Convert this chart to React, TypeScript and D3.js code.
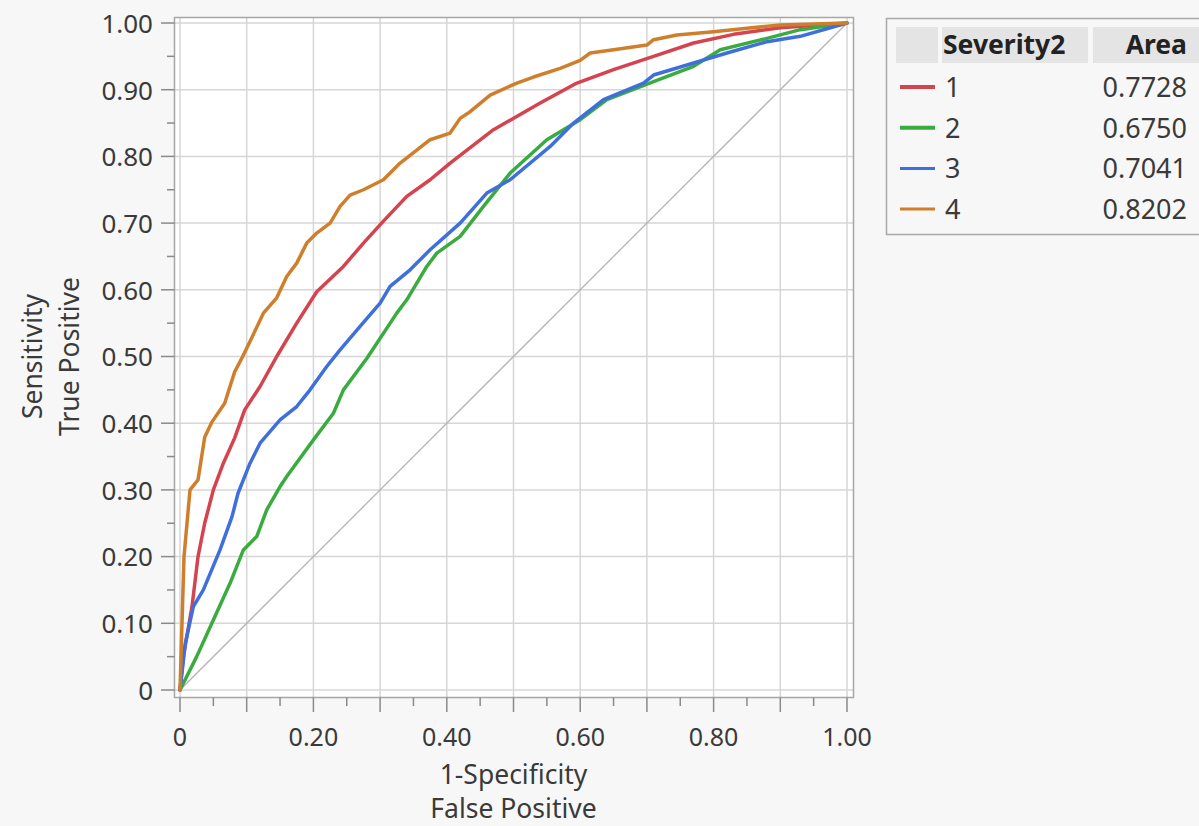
import React from 'react'
import * as d3 from 'd3'

const width = 1199
const height = 826

// ROC curves per Severity2 level, [1-specificity, sensitivity]
const sev1: [number, number][] = [
  [0, 0], [0.005, 0.05], [0.018, 0.125], [0.027, 0.2], [0.037, 0.25], [0.05, 0.3], [0.065, 0.34],
  [0.082, 0.378], [0.097, 0.42], [0.12, 0.455], [0.145, 0.5], [0.175, 0.55], [0.205, 0.597],
  [0.245, 0.635], [0.275, 0.67], [0.305, 0.703], [0.34, 0.74], [0.375, 0.765], [0.405, 0.79],
  [0.47, 0.84], [0.54, 0.88], [0.595, 0.91], [0.65, 0.93], [0.71, 0.95], [0.77, 0.97],
  [0.83, 0.983], [0.9, 0.993], [1, 1]
]
const sev2: [number, number][] = [
  [0, 0], [0.025, 0.05], [0.05, 0.105], [0.075, 0.16], [0.095, 0.21], [0.115, 0.23], [0.13, 0.27],
  [0.15, 0.305], [0.16, 0.32], [0.2, 0.375], [0.23, 0.415], [0.245, 0.45], [0.28, 0.497],
  [0.325, 0.565], [0.34, 0.585], [0.37, 0.635], [0.385, 0.655], [0.42, 0.68], [0.455, 0.725],
  [0.495, 0.775], [0.55, 0.825], [0.6, 0.855], [0.64, 0.885], [0.71, 0.912], [0.77, 0.935],
  [0.81, 0.96], [0.88, 0.977], [0.93, 0.99], [1, 1]
]
const sev3: [number, number][] = [
  [0, 0], [0.008, 0.07], [0.02, 0.125], [0.035, 0.15], [0.06, 0.21], [0.078, 0.26], [0.087, 0.295],
  [0.105, 0.34], [0.12, 0.37], [0.15, 0.405], [0.175, 0.425], [0.195, 0.45], [0.22, 0.485],
  [0.24, 0.51], [0.27, 0.545], [0.3, 0.58], [0.315, 0.605], [0.345, 0.63], [0.375, 0.66],
  [0.42, 0.7], [0.46, 0.745], [0.495, 0.765], [0.555, 0.815], [0.59, 0.85], [0.635, 0.885],
  [0.695, 0.91], [0.71, 0.922], [0.77, 0.94], [0.82, 0.955], [0.88, 0.972], [0.93, 0.98], [1, 1]
]
const sev4: [number, number][] = [
  [0, 0], [0.003, 0.1], [0.006, 0.2], [0.015, 0.3], [0.027, 0.315], [0.037, 0.379], [0.048, 0.402],
  [0.067, 0.43], [0.082, 0.477], [0.094, 0.5], [0.108, 0.529], [0.125, 0.565], [0.145, 0.588],
  [0.16, 0.62], [0.175, 0.64], [0.19, 0.67], [0.205, 0.685], [0.225, 0.7], [0.24, 0.725],
  [0.255, 0.742], [0.275, 0.75], [0.305, 0.765], [0.33, 0.79], [0.375, 0.825], [0.405, 0.835],
  [0.42, 0.857], [0.435, 0.867], [0.465, 0.892], [0.505, 0.91], [0.53, 0.919], [0.57, 0.932],
  [0.6, 0.944], [0.615, 0.955], [0.65, 0.96], [0.7, 0.967], [0.71, 0.975], [0.745, 0.982],
  [0.8, 0.987], [0.85, 0.992], [0.9, 0.997], [1, 1]
]

const levels = ['1', '2', '3', '4']
const areas = ['0.7728', '0.6750', '0.7041', '0.8202']
const colors = ['#d5434f', '#3aab3e', '#3f6fdc', '#cf7f2b']
const curves = [sev1, sev2, sev3, sev4]

const majorTicks = [0, 0.1, 0.2, 0.3, 0.4, 0.5, 0.6, 0.7, 0.8, 0.9, 1]
const minorTicks = d3.range(0.05, 1, 0.1)
const yTickLabels = ['0', '0.10', '0.20', '0.30', '0.40', '0.50', '0.60', '0.70', '0.80', '0.90', '1.00']
const xTickValues = [0, 0.2, 0.4, 0.6, 0.8, 1]
const xTickLabels = ['0', '0.20', '0.40', '0.60', '0.80', '1.00']

const font = '"Noto Sans", "Open Sans", sans-serif'
const textColor = '#3a3a3a'

const x = d3.scaleLinear().domain([0, 1]).range([180, 847])
const y = d3.scaleLinear().domain([0, 1]).range([690, 23])

const line = d3.line<[number, number]>().x(d => x(d[0])).y(d => y(d[1]))

const frame = { left: 174.5, top: 17.5, right: 853.5, bottom: 697.5 }

export default function App() {
  return (
    <svg width={width} height={height} style={{ position: 'absolute', left: 0, top: 0 }} fontFamily={font}>
      <rect width={width} height={height} fill="#f7f7f7" />
      <rect x={frame.left} y={frame.top} width={frame.right - frame.left} height={frame.bottom - frame.top} fill="#fff" />

      {majorTicks.map((t, i) => (
        <g key={'g' + i} stroke="#d6d6d6" strokeWidth={1.5}>
          <line x1={x(t)} x2={x(t)} y1={frame.top} y2={frame.bottom} />
          <line x1={frame.left} x2={frame.right} y1={y(t)} y2={y(t)} />
        </g>
      ))}

      <line x1={x(0)} y1={y(0)} x2={x(1)} y2={y(1)} stroke="#b4b4b4" strokeWidth={1.3} />

      {curves.map((c, i) => (
        <path key={'c' + i} d={line(c) || ''} fill="none" stroke={colors[i]} strokeWidth={3.5}
          strokeLinejoin="round" strokeLinecap="round" />
      ))}

      <rect x={frame.left} y={frame.top} width={frame.right - frame.left} height={frame.bottom - frame.top}
        fill="none" stroke="#a6a6a6" strokeWidth={1.5} />

      {/* y axis */}
      {majorTicks.map((t, i) => (
        <g key={'yt' + i}>
          <line x1={161} x2={frame.left} y1={y(t)} y2={y(t)} stroke="#8a8a8a" strokeWidth={1.5} />
          <text x={153} y={y(t)} dy="0.38em" textAnchor="end" fontSize={26} fill={textColor}>{yTickLabels[i]}</text>
        </g>
      ))}
      {minorTicks.map((t, i) => (
        <line key={'ym' + i} x1={167} x2={frame.left} y1={y(t)} y2={y(t)} stroke="#8a8a8a" strokeWidth={1.5} />
      ))}

      {/* x axis */}
      {majorTicks.map((t, i) => (
        <line key={'xt' + i} x1={x(t)} x2={x(t)} y1={frame.bottom} y2={712} stroke="#8a8a8a" strokeWidth={1.5} />
      ))}
      {minorTicks.map((t, i) => (
        <line key={'xm' + i} x1={x(t)} x2={x(t)} y1={frame.bottom} y2={706} stroke="#8a8a8a" strokeWidth={1.5} />
      ))}
      {xTickValues.map((t, i) => (
        <text key={'xl' + i} x={x(t)} y={746} textAnchor="middle" fontSize={25} fill={textColor}>{xTickLabels[i]}</text>
      ))}

      <text x={(x(0) + x(1)) / 2} y={784} textAnchor="middle" fontSize={26.5} fill={textColor}>1-Specificity</text>
      <text x={(x(0) + x(1)) / 2} y={818} textAnchor="middle" fontSize={26.5} fill={textColor}>False Positive</text>

      <text transform={`translate(42,${(y(0) + y(1)) / 2}) rotate(-90)`} textAnchor="middle" fontSize={26.5} fill={textColor}>Sensitivity</text>
      <text transform={`translate(79,${(y(0) + y(1)) / 2}) rotate(-90)`} textAnchor="middle" fontSize={26.5} fill={textColor}>True Positive</text>

      {/* legend table */}
      <rect x={886.5} y={18.5} width={330} height={216} fill="#f7f7f7" stroke="#a8a8a8" strokeWidth={1.5} />
      <rect x={896} y={27} width={42} height={36} fill="#e4e4e4" />
      <rect x={942} y={27} width={146} height={36} fill="#e4e4e4" />
      <rect x={1093} y={27} width={110} height={36} fill="#e4e4e4" />
      <text x={943} y={54} fontSize={26.5} fontWeight="bold" fill="#222">Severity2</text>
      <text x={1187} y={54} fontSize={26.5} fontWeight="bold" fill="#222" textAnchor="end">Area</text>
      {levels.map((lv, i) => {
        const base = 97 + i * 40.7
        return (
          <g key={'lg' + i}>
            <line x1={900} x2={935} y1={base - 10} y2={base - 10} stroke={colors[i]} strokeWidth={i < 2 ? 4 : 3} />
            <text x={945} y={base} fontSize={27} fill={textColor}>{lv}</text>
            <text x={1187} y={base} fontSize={27} fill={textColor} textAnchor="end">{areas[i]}</text>
          </g>
        )
      })}
    </svg>
  )
}
